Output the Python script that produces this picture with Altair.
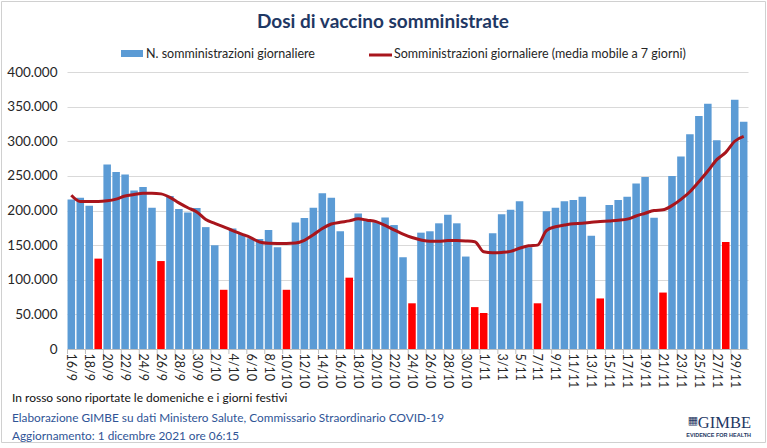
import altair as alt
import pandas as pd

# Giorni (etichette asse x), dal 16/9 al 30/11/2021
giorni = [
    "16/9", "17/9", "18/9", "19/9", "20/9", "21/9", "22/9", "23/9", "24/9", "25/9",
    "26/9", "27/9", "28/9", "29/9", "30/9",
    "1/10", "2/10", "3/10", "4/10", "5/10", "6/10", "7/10", "8/10", "9/10", "10/10",
    "11/10", "12/10", "13/10", "14/10", "15/10", "16/10", "17/10", "18/10", "19/10", "20/10",
    "21/10", "22/10", "23/10", "24/10", "25/10", "26/10", "27/10", "28/10", "29/10", "30/10",
    "31/10",
    "1/11", "2/11", "3/11", "4/11", "5/11", "6/11", "7/11", "8/11", "9/11", "10/11",
    "11/11", "12/11", "13/11", "14/11", "15/11", "16/11", "17/11", "18/11", "19/11", "20/11",
    "21/11", "22/11", "23/11", "24/11", "25/11", "26/11", "27/11", "28/11", "29/11", "30/11",
]

# Domeniche e festivi (barre in rosso)
festivi = ["19/9", "26/9", "3/10", "10/10", "17/10", "24/10", "31/10", "1/11",
           "7/11", "14/11", "21/11", "28/11"]

# Somministrazioni giornaliere
somministrazioni = [
    216000, 218500, 207000, 130500, 266500, 255500, 252000, 229000, 234000, 204000,
    127000, 221000, 202000, 197000, 203500,
    176000, 150000, 85500, 174000, 166000, 160000, 159000, 172000, 147000, 85500,
    182500, 189000, 204000, 225000, 218500, 170000, 103000, 195500, 186000, 183000,
    190000, 179000, 132500, 66000, 168000, 170000, 181500, 194000, 181500, 133500,
    60500,
    52000, 167000, 194500, 201000, 213500, 147000, 66000, 199000, 204000, 213500,
    215000, 220000, 163500, 73000, 208000, 215000, 220000, 239000, 248500, 189500,
    81500, 250000, 278000, 310000, 336500, 354000, 301500, 154500, 360000, 328000,
]

# Media mobile a 7 giorni
media_mobile = [
    222000, 213000, 213000, 213000, 214000, 216500, 221000, 223000, 225000, 225000,
    224000, 219000, 211000, 204000, 198000,
    187000, 181500, 176500, 171000, 166000, 161000, 154500, 152700, 152500, 152500,
    153000, 157000, 165000, 174000, 180500, 183000, 185000, 188000, 186000, 184000,
    178500, 172000, 166000, 161000, 157500, 155500, 155500, 156500, 156500, 156000,
    155000,
    140500, 139000, 139500, 141000, 145500, 149000, 150000, 171000, 176500, 179000,
    181000, 181500, 183000, 184000, 185000, 186000, 187500, 192000, 196000, 200000,
    201000, 207000, 216000, 227000, 241500, 257000, 273500, 284000, 300000, 307000,
]

valori_y = [0, 50000, 100000, 150000, 200000, 250000, 300000, 350000, 400000]

df = pd.DataFrame({
    "giorno": giorni,
    "dosi": somministrazioni,
    "media": media_mobile,
    "indice": list(range(len(giorni))),
    "tipo": ["festivo" if g in festivi else "feriale" for g in giorni],
})

W, H = 681, 277
FONT = "Lato"
BLU_TESTO = "#2F5496"
ROSSO_LINEA = "#A8151C"

scala_x = alt.Scale(paddingInner=0.16, paddingOuter=0.06)
scala_y = alt.Scale(domain=[0, 400000], nice=False)

asse_x = alt.Axis(values=giorni[::2], labelAngle=90, ticks=False, grid=False,
                  domainColor="#BFBFBF", labelFontSize=12.5, labelColor="#262626",
                  labelFont=FONT, labelPadding=4)
asse_y = alt.Axis(values=valori_y, domain=False, ticks=False, labelOverlap=False,
                  labelExpr="replace(format(datum.value, ','), regexp(',', 'g'), '.')",
                  gridColor="#D9D9D9", labelFontSize=13.5, labelColor="#262626",
                  labelFont=FONT, labelPadding=10)


def enc_x(**kw):
    return alt.X("giorno:N", sort=giorni, title=None, scale=scala_x, axis=asse_x, **kw)


def enc_y(campo):
    return alt.Y(campo, title=None, scale=scala_y, axis=asse_y)


base = alt.Chart(df)

barre = base.mark_bar().encode(
    x=enc_x(), y=enc_y("dosi:Q"),
    color=alt.Color("tipo:N", legend=None,
                    scale=alt.Scale(domain=["feriale", "festivo"],
                                    range=["#5B9BD5", "#FF0000"])),
)

linea = base.mark_line(color=ROSSO_LINEA, strokeWidth=3, interpolate="monotone").encode(
    x=enc_x(), y=enc_y("media:Q"),
)

# Tacche sull'asse x al bordo sinistro di ogni giorno etichettato
tacche = base.transform_filter("datum.indice % 2 == 0").mark_rule(
    color="#BFBFBF", strokeWidth=1
).encode(
    x=enc_x(bandPosition=0),
    y=alt.value(H), y2=alt.value(H + 5),
)

uno = pd.DataFrame({"k": [0]})


def testo(t, x, y, size, color="#262626", align="left", font=FONT, weight="normal",
          baseline="middle"):
    return alt.Chart(uno).mark_text(
        text=t, align=align, baseline=baseline, fontSize=size, color=color,
        font=font, fontWeight=weight,
    ).encode(x=alt.value(x), y=alt.value(y))


OX, OY = 67, 72  # origine dell'area del grafico nella pagina

cornice = alt.Chart(uno).mark_rect(fill=None, stroke="#D0D0D0", strokeWidth=1).encode(
    x=alt.value(1.5 - OX), x2=alt.value(765.5 - OX),
    y=alt.value(1.5 - OY), y2=alt.value(442.5 - OY),
)

titolo = testo("Dosi di vaccino somministrate", 383 - OX, 22 - OY, 19,
               color="#1F3864", align="center", weight="bold")

leg_box = alt.Chart(uno).mark_rect(color="#5B9BD5").encode(
    x=alt.value(121 - OX), x2=alt.value(143 - OX),
    y=alt.value(50 - OY), y2=alt.value(57 - OY),
)
leg_t1 = testo("N. somministrazioni giornaliere", 146 - OX, 54 - OY, 12.5)
leg_linea = alt.Chart(uno).mark_rule(color=ROSSO_LINEA, strokeWidth=3).encode(
    x=alt.value(369 - OX), x2=alt.value(392 - OX), y=alt.value(55 - OY),
)
leg_t2 = testo("Somministrazioni giornaliere (media mobile a 7 giorni)", 394 - OX, 54 - OY, 12.5)

nota = testo("In rosso sono riportate le domeniche e i giorni festivi", 12 - OX, 398 - OY, 12,
             color="#111111")
fonte = testo("Elaborazione GIMBE su dati Ministero Salute, Commissario Straordinario COVID-19",
              12 - OX, 418 - OY, 11.8, color=BLU_TESTO)
agg = testo("Aggiornamento: 1 dicembre 2021 ore 06:15", 12 - OX, 436 - OY, 11.8, color=BLU_TESTO)

logo_icona = testo("▦", 693 - OX, 421 - OY, 11, color="#1F3864", align="center",
                   font="DejaVu Sans")
logo_nome = testo("GIMBE", 751 - OX, 428 - OY, 16.5, color="#1F3864", align="right",
                  font="Liberation Serif", baseline="alphabetic")
logo_motto = testo("EVIDENCE FOR HEALTH", 751 - OX, 435 - OY, 5.5, color="#1F3864",
                   align="right", font="Liberation Sans", weight="bold")

chart = alt.layer(
    cornice, barre, linea, tacche, titolo, leg_box, leg_t1, leg_linea, leg_t2,
    nota, fonte, agg, logo_icona, logo_nome, logo_motto,
).properties(
    width=W, height=H,
    autosize=alt.AutoSizeParams(type="none"),
    padding={"left": OX, "top": OY, "right": 767 - OX - W, "bottom": 448 - OY - H},
    background="white",
).configure_view(stroke=None)

chart.save("out.html", embed_options={"renderer": "svg", "actions": False})
